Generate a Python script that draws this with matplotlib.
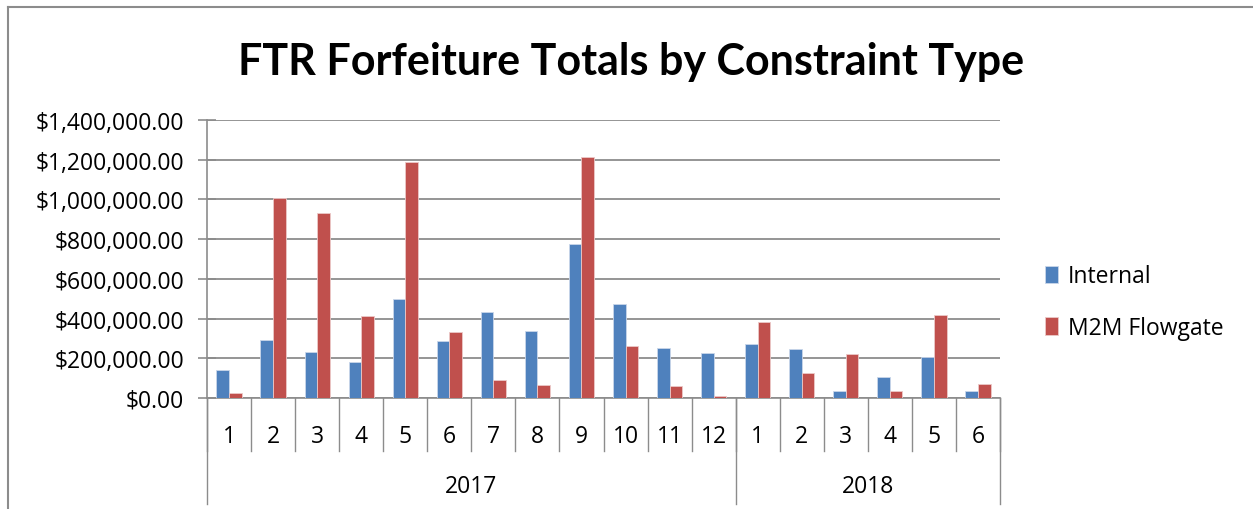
import matplotlib
matplotlib.use("Agg")
import matplotlib.pyplot as plt
from matplotlib.lines import Line2D
from matplotlib.transforms import blended_transform_factory
import numpy as np

months = ["1", "2", "3", "4", "5", "6", "7", "8", "9", "10", "11", "12",
          "1", "2", "3", "4", "5", "6"]
years = ["2017", "2018"]
year_counts = [12, 6]
internal = [143000, 292000, 234000, 182000, 499000, 286000, 434000, 338000, 776000,
            472000, 252000, 227000, 272000, 247000, 34000, 106000, 208000, 34000]
m2m = [27000, 1008000, 931000, 413000, 1190000, 331000, 91000, 66000, 1215000,
       260000, 60000, 10000, 383000, 124000, 222000, 34000, 420000, 72000]
yticks = [0, 200000, 400000, 600000, 800000, 1000000, 1200000, 1400000]

W, H = 1253, 510
fig = plt.figure(figsize=(W / 100, H / 100), dpi=100)
plt.rcParams['font.family'] = ['Open Sans', 'DejaVu Sans']
FS = 16.5

def fx(px):
    return px / W

def fy(py):
    return 1 - py / H

ax_l, ax_r, ax_t, ax_b = 207, 1000, 121, 399
ax = fig.add_axes([fx(ax_l), fy(ax_b), fx(ax_r - ax_l), (ax_b - ax_t) / H])

n = len(months)
x = np.arange(n)
bw = 0.286
blue = "#4F81BD"
red = "#C0504D"
b1 = ax.bar(x - bw / 2, internal, bw, color=blue, edgecolor="#c9d6ea", linewidth=0.6, label="Internal", zorder=3)
b2 = ax.bar(x + bw / 2, m2m, bw, color=red, edgecolor="#ecc9c8", linewidth=0.6, label="M2M Flowgate", zorder=3)

ax.set_xlim(-0.5, n - 0.5)
ax.set_ylim(0, 1400000)
ax.set_yticks(yticks)
ax.set_yticklabels(["${:,.2f}".format(v) for v in yticks], fontsize=FS)
ax.tick_params(axis="y", length=13, width=1.2, color="#8c8c8c", pad=10, direction="inout")
ax.tick_params(axis="x", length=0, labelbottom=False)
ax.grid(axis="y", color="#8c8c8c", linewidth=1.3, zorder=0)
for s in ["top", "right"]:
    ax.spines[s].set_visible(False)
for s in ["left", "bottom"]:
    ax.spines[s].set_color("#8c8c8c")
    ax.spines[s].set_linewidth(1.2)

# multi-level category axis
trans = blended_transform_factory(ax.transData, ax.transAxes)
axh = ax_b - ax_t
def ay(py):
    return (ax_b - py) / axh

for i, m in enumerate(months):
    ax.text(i, ay(437), m, transform=trans, ha="center", va="center", fontsize=FS, clip_on=False)
for i in range(n + 1):
    ax.add_line(Line2D([i - 0.5, i - 0.5], [0, ay(452)], transform=trans, color="#8c8c8c",
                       linewidth=1.0, clip_on=False))
start = 0
bounds = [0]
for yr, c in zip(years, year_counts):
    ax.text(start + c / 2 - 0.5, ay(487), yr, transform=trans, ha="center", va="center",
            fontsize=FS, clip_on=False)
    start += c
    bounds.append(start)
for b in bounds:
    ax.add_line(Line2D([b - 0.5, b - 0.5], [0, ay(505)], transform=trans, color="#8c8c8c",
                       linewidth=1.0, clip_on=False))

fig.text(fx(631), fy(62), "FTR Forfeiture Totals by Constraint Type", ha="center", va="center",
         fontsize=31, fontweight="bold", family=["Lato", "DejaVu Sans"])

fig.legend(handles=[b1, b2], labels=["Internal", "M2M Flowgate"], loc="center left",
           bbox_to_anchor=(fx(1024), fy(303)), frameon=False, fontsize=FS,
           handlelength=0.6, handleheight=0.8, handletextpad=0.4, labelspacing=1.2)

# chart border
fig.add_artist(Line2D([fx(8), fx(8)], [fy(8), 0], transform=fig.transFigure, color="#8c8c8c", linewidth=1.5))
fig.add_artist(Line2D([fx(8), 1], [fy(8), fy(8)], transform=fig.transFigure, color="#8c8c8c", linewidth=1.5))

fig.savefig("out.png", dpi=100)
